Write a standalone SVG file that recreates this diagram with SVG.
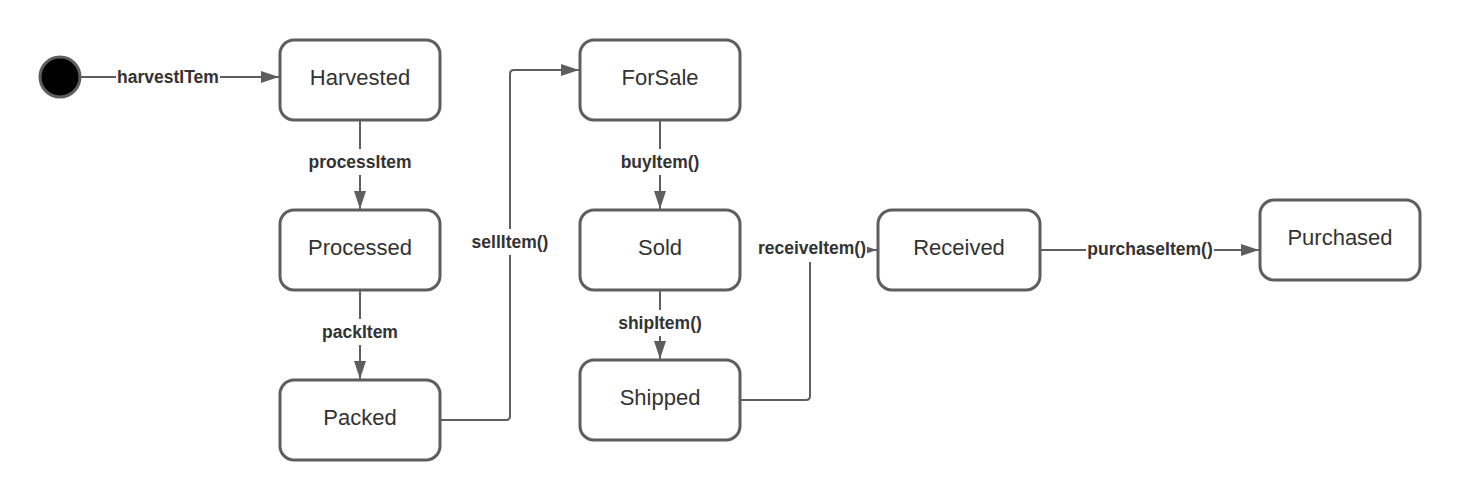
<svg xmlns="http://www.w3.org/2000/svg" width="1460" height="500" viewBox="0 0 1460 500">
<style>
.node rect{fill:#fff;stroke:#5e5e5e;stroke-width:3}
.node text{font-family:"Liberation Sans",Arial,sans-serif;font-size:22px;fill:#333;text-anchor:middle;dominant-baseline:central}
.conn path{fill:none;stroke:#5e5e5e;stroke-width:2}
.lbl rect{fill:#fff}
.lbl text{font-family:"Liberation Sans",Arial,sans-serif;font-size:17.5px;font-weight:bold;fill:#333;text-anchor:middle;dominant-baseline:central}
</style>
<defs>
<marker id="ah" markerWidth="19" markerHeight="12" refX="19" refY="6" orient="auto" markerUnits="userSpaceOnUse">
<path d="M0,0 L18,6 L0,12 Z" fill="#5e5e5e"/>
</marker>
</defs>
<rect width="1460" height="500" fill="#fff"/>
<g id="connectors" class="conn">
<path d="M80,77 H280" marker-end="url(#ah)"/>
<path d="M360,120 V210" marker-end="url(#ah)"/>
<path d="M360,290 V380" marker-end="url(#ah)"/>
<path d="M440,420 H506 Q510,420 510,416 V74 Q510,70 514,70 H580" marker-end="url(#ah)"/>
<path d="M660,120 V210" marker-end="url(#ah)"/>
<path d="M660,290 V360" marker-end="url(#ah)"/>
<path d="M740,400 H806 Q810,400 810,396 V254 Q810,250 814,250 H878" marker-end="url(#ah)"/>
<path d="M1040,250 H1260" marker-end="url(#ah)"/>
</g>
<g id="labels" class="lbl">
<g id="lbl-harvest"><rect x="116" y="66" width="104" height="22"/><text x="168" y="77">harvestITem</text></g>
<g id="lbl-process"><rect x="304" y="149" width="112" height="26"/><text x="360" y="162">processItem</text></g>
<g id="lbl-pack"><rect x="312" y="319" width="96" height="26"/><text x="360" y="332">packItem</text></g>
<g id="lbl-sell"><rect x="466" y="229" width="88" height="26"/><text x="510" y="242">sellItem()</text></g>
<g id="lbl-buy"><rect x="616" y="149" width="88" height="26"/><text x="660" y="162">buyItem()</text></g>
<g id="lbl-ship"><rect x="612" y="310" width="96" height="26"/><text x="660" y="323">shipItem()</text></g>
<g id="lbl-receive"><rect x="756" y="236" width="111" height="26"/><text x="812" y="248">receiveItem()</text></g>
<g id="lbl-purchase"><rect x="1086" y="237" width="128" height="25"/><text x="1150" y="249">purchaseItem()</text></g>
</g>
<g id="initial"><circle cx="60" cy="77" r="20" fill="#000" stroke="#5e5e5e" stroke-width="3"/></g>
<g id="harvested" class="node"><rect x="280" y="40" width="160" height="80" rx="14"/><text x="360" y="77">Harvested</text></g>
<g id="processed" class="node"><rect x="280" y="210" width="160" height="80" rx="14"/><text x="360" y="247">Processed</text></g>
<g id="packed" class="node"><rect x="280" y="380" width="160" height="80" rx="14"/><text x="360" y="417">Packed</text></g>
<g id="forsale" class="node"><rect x="580" y="40" width="160" height="80" rx="14"/><text x="660" y="77">ForSale</text></g>
<g id="sold" class="node"><rect x="580" y="210" width="160" height="80" rx="14"/><text x="660" y="247">Sold</text></g>
<g id="shipped" class="node"><rect x="580" y="360" width="160" height="80" rx="14"/><text x="660" y="397">Shipped</text></g>
<g id="received" class="node"><rect x="878" y="210" width="162" height="80" rx="14"/><text x="959" y="247">Received</text></g>
<g id="purchased" class="node"><rect x="1260" y="200" width="160" height="80" rx="14"/><text x="1340" y="237">Purchased</text></g>
</svg>
